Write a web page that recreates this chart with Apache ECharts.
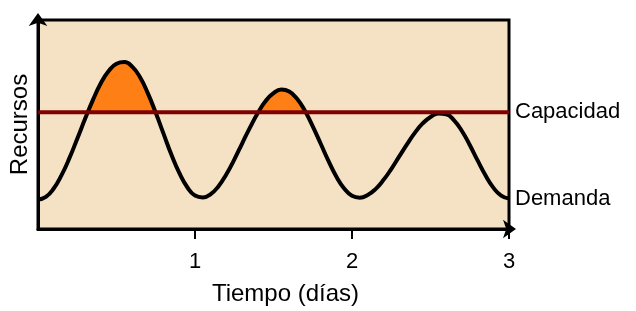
<!DOCTYPE html>
<html>
<head>
<meta charset="utf-8">
<script src="https://cdn.jsdelivr.net/npm/echarts@6/dist/echarts.min.js"></script>
<style>
  html, body { margin: 0; padding: 0; background: #fff; }
  #chart { width: 636px; height: 311px; }
</style>
</head>
<body>
<div id="chart"></div>
<script>
// valores (dias, recursos en escala 0-100)
var days = [0, 0.05, 0.1, 0.15, 0.2, 0.25, 0.3, 0.35, 0.4, 0.45, 0.5, 0.55, 0.6, 0.65, 0.7, 0.75, 0.8, 0.85, 0.9, 0.95,
            1.0, 1.05, 1.1, 1.15, 1.2, 1.25, 1.3, 1.35, 1.4, 1.45, 1.5, 1.55, 1.6, 1.65, 1.7, 1.75, 1.8, 1.85, 1.9, 1.95,
            2.0, 2.05, 2.1, 2.15, 2.2, 2.25, 2.3, 2.35, 2.4, 2.45, 2.5, 2.55, 2.6, 2.65, 2.7, 2.75, 2.8, 2.85, 2.9, 2.95, 3.0];
var demanda = [14.1, 15.4, 19.4, 25.8, 33.9, 43.2, 52.7, 61.8, 69.7, 75.6, 79.1, 79.9, 77.7, 72.6, 64.9, 55.6, 45.5, 35.5, 26.8, 20.1,
               16.0, 15.1, 16.7, 20.5, 26.2, 33.2, 40.9, 48.5, 55.5, 61.2, 65.0, 66.7, 65.8, 62.3, 56.6, 49.1, 40.9, 32.6, 25.1, 19.4,
               15.9, 15.0, 16.3, 19.1, 23.4, 28.7, 34.6, 40.5, 46.0, 50.5, 53.6, 55.3, 54.9, 52.0, 46.9, 40.2, 32.8, 25.7, 19.8, 16.0, 14.6];
var capacidad = 55.9;
var xTicks = [1, 2, 3];

var font = '"Liberation Sans", Arial, Helvetica, sans-serif';

var demandaData = days.map(function (d, i) { return [d, demanda[i]]; });
var capData = [[days[0], capacidad], [days[days.length - 1], capacidad]];

var chart = echarts.init(document.getElementById('chart'));
chart.setOption({
    animation: false,
    textStyle: { fontFamily: font },
    grid: {
        left: 36, right: 127, top: 20, bottom: 78,
        show: true,
        backgroundColor: '#f5e1c4',
        borderColor: '#000',
        borderWidth: 3
    },
    xAxis: {
        type: 'value',
        min: 0, max: 3, interval: 1,
        name: 'Tiempo (días)',
        nameLocation: 'middle',
        nameGap: 53,
        nameTextStyle: { fontSize: 24, color: '#000', fontFamily: font, padding: [0, 0, 0, 24] },
        axisLine: { lineStyle: { color: '#000', width: 3 }, symbol: ['none', 'arrow'], symbolSize: [14, 13], symbolOffset: [0, 7] },
        axisTick: { show: true, customValues: xTicks, length: 10, lineStyle: { color: '#000', width: 2 } },
        axisLabel: { customValues: xTicks, fontSize: 22, color: '#000', margin: 22, fontFamily: font },
        splitLine: { show: false }
    },
    yAxis: {
        type: 'value',
        min: 0, max: 100,
        name: 'Recursos',
        nameLocation: 'middle',
        nameRotate: 90,
        nameGap: 6,
        nameTextStyle: { fontSize: 24, color: '#000', fontFamily: font },
        axisLine: { show: true, lineStyle: { color: '#000', width: 3 }, symbol: ['none', 'arrow'], symbolSize: [14, 13], symbolOffset: [0, 7] },
        axisTick: { show: false },
        axisLabel: { show: false },
        splitLine: { show: false }
    },
    visualMap: {
        show: false,
        type: 'piecewise',
        seriesIndex: 0,
        dimension: 1,
        pieces: [
            { gt: capacidad, lte: 1000, color: '#fd7f16' },
            { gte: -1000, lte: capacidad, color: 'rgba(0,0,0,0)' }
        ]
    },
    series: [
        {
            name: 'Exceso',
            type: 'line',
            data: demandaData,
            smooth: 0.5,
            showSymbol: false,
            silent: true,
            lineStyle: { width: 0 },
            areaStyle: { origin: capacidad, opacity: 1 },
            z: 1
        },
        {
            name: 'Demanda',
            type: 'line',
            data: demandaData,
            smooth: 0.5,
            showSymbol: false,
            lineStyle: { color: '#000', width: 4 },
            itemStyle: { color: '#000' },
            endLabel: { show: true, formatter: 'Demanda', fontSize: 22, color: '#000', distance: 6, fontFamily: font },
            z: 2
        },
        {
            name: 'Capacidad',
            type: 'line',
            data: capData,
            showSymbol: false,
            lineStyle: { color: '#7f0000', width: 4 },
            itemStyle: { color: '#7f0000' },
            endLabel: { show: true, formatter: 'Capacidad', fontSize: 22, color: '#000', distance: 6, fontFamily: font },
            z: 3
        }
    ]
});
</script>
</body>
</html>
